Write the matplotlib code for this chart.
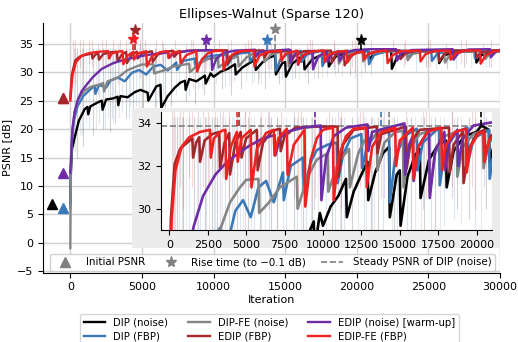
import matplotlib
matplotlib.use('Agg')
import matplotlib.pyplot as plt
from matplotlib.patches import Rectangle
from matplotlib.lines import Line2D

# ---- curves (iteration, PSNR in dB) ----
dip_noise_it = [0, 40, 120, 300, 600, 1000, 1200, 1250, 1400, 2000, 2200, 2250, 2500, 3000, 3300, 3350, 3500, 4000, 4500,
                4900, 5400, 5450, 6000, 6300, 6350, 6800, 7300, 7700, 8000, 8050, 8300, 8800, 9400, 9450, 9800, 10000,
                10500, 11000, 11500, 11550, 12000, 12500, 12900, 12950, 13400, 13900, 14300, 14350, 14800, 15000, 15050,
                15500, 16000, 16300, 16350, 16900, 17500, 18000, 18050, 18500, 19200, 20000, 20300, 20800, 20850, 21200,
                22000, 22400, 22450, 22800, 23600, 25700, 25750, 26100, 27000, 28300, 28350, 28700, 29500, 30000]
dip_noise_psnr = [7.0, 12.5, 16.5, 18.5, 21.5, 23.5, 23.9, 22.6, 24.0, 24.8, 25.0, 23.4, 25.2, 25.4, 25.7, 24.2, 25.8, 25.6, 26.5,
                  26.9, 26.4, 25.0, 27.5, 27.8, 23.7, 25.8, 27.3, 28.2, 28.5, 26.9, 28.8, 28.4, 29.4, 28.0, 29.8, 29.2,
                  30.1, 30.6, 31.4, 29.6, 30.8, 31.6, 32.2, 30.4, 31.7, 32.6, 32.9, 29.6, 31.6, 31.8, 29.2,
                  31.5, 32.5, 32.8, 30.5, 32.3, 33.0, 33.2, 31.0, 32.7, 33.4, 33.6, 33.9, 33.7, 32.2, 33.2,
                  33.6, 33.7, 30.6, 32.6, 33.6, 33.7, 31.6, 33.0, 33.6, 33.7, 31.7, 33.0, 33.6, 33.7]

dip_fbp_it = [0, 40, 120, 250, 500, 900, 1400, 1700, 1750, 2000, 2500, 2800, 3300, 3800, 4300, 4800, 5300, 5800, 6300, 6800,
              7400, 7450, 7900, 8700, 8750, 9200, 9600, 10300, 10900, 10950, 11300, 11800, 12500, 12550, 12900, 13700,
              14300, 14350, 14700, 15300, 16100, 16150, 16500, 17550, 17600, 17950, 18700, 19400, 19450, 19800, 20800,
              20850, 21200, 22000, 23500, 23550, 23900, 25200, 25250, 25600, 26500, 28200, 28250, 28600, 29500, 30000]
dip_fbp_psnr = [6.1, 13.0, 18.5, 21.5, 24.0, 25.8, 27.0, 27.6, 26.2, 27.8, 27.3, 28.5, 29.1, 28.4, 29.9, 30.4, 29.6, 31.0, 31.3,
                30.3, 31.7, 30.4, 32.0, 32.4, 30.8, 32.2, 32.75, 33.0, 33.1, 31.2, 32.5, 33.3, 33.5, 31.9, 33.0, 33.7,
                33.8, 30.3, 32.4, 33.4, 33.75, 31.8, 33.1, 33.8, 31.1, 32.8, 33.6, 33.8, 32.2, 33.3, 33.7,
                31.4, 33.0, 33.7, 33.8, 32.5, 33.4, 33.8, 32.0, 33.2, 33.8, 33.85, 32.4, 33.4, 33.8, 33.8]

dipfe_noise_it = [0, 20, 60, 150, 300, 600, 1000, 1500, 2000, 2300, 2350, 2600, 3300, 3950, 4600, 5000, 5800, 5850, 6500,
                  7200, 8300, 8350, 9000, 9600, 10300, 10350, 11000, 11700, 11750, 12300, 12700, 13500, 13550, 14000,
                  14700, 15200, 15250, 15600, 16300, 16900, 16950, 17300, 17900, 18700, 18750, 19100, 19800, 20400, 20450,
                  20800, 21600, 23500, 23550, 23900, 24700, 26100, 26150, 26500, 27300, 28900, 28950, 29300, 30000]
dipfe_noise_psnr = [-0.9, 8.0, 15.0, 20.0, 23.0, 25.5, 26.8, 27.5, 27.8, 28.1, 26.6, 28.4, 29.0, 30.3, 31.0, 31.35, 31.4, 29.8,
                    30.3, 31.0, 31.5, 30.0, 31.5, 32.3, 32.6, 30.8, 32.2, 32.8, 31.0, 32.6, 33.2, 33.45, 31.8, 33.1,
                    33.6, 33.65, 31.0, 32.8, 33.5, 33.65, 30.8, 32.6, 33.4, 33.6, 31.5, 32.9, 33.5, 33.65, 31.9,
                    33.1, 33.6, 33.7, 32.1, 33.2, 33.65, 33.7, 31.7, 33.0, 33.6, 33.7, 32.3, 33.3, 33.7]

edip_fbp_it = [0, 100, 350, 700, 1000, 1500, 1550, 1750, 1950, 2000, 2300, 2800, 3250, 3300, 3600, 3900, 3950, 4300, 4650,
               4700, 5000, 5700, 5750, 6100, 6700, 7200, 7250, 7500, 8200, 9600, 10950, 11000, 11300, 12000, 13500, 13550,
               13800, 15400, 15450, 15700, 16300, 18200, 18250, 18500, 19100, 19150, 19500, 20000, 20500, 20550, 20900,
               21600, 23000, 23050, 23400, 24200, 25700, 25750, 26100, 26800, 28300, 28350, 28700, 29500, 30000]
edip_fbp_psnr = [25.5, 29.5, 32.1, 32.8, 33.0, 33.3, 32.4, 33.1, 33.35, 32.2, 33.2, 33.5, 33.6, 31.9, 33.1, 33.55, 31.6, 33.1, 33.6,
                 32.4, 33.3, 33.7, 31.8, 33.1, 33.65, 33.75, 32.7, 33.4, 33.8, 33.85, 33.85, 31.5, 33.0, 33.7, 33.85, 32.6,
                 33.5, 33.85, 31.9, 33.1, 33.7, 33.8, 31.7, 33.0, 33.6, 31.2, 32.8, 33.5, 33.7, 32.5, 33.4,
                 33.75, 33.85, 32.3, 33.3, 33.8, 33.85, 31.9, 33.2, 33.8, 33.85, 32.6, 33.5, 33.85, 33.85]

edip_noise_it = [0, 60, 150, 300, 500, 800, 1200, 1600, 2200, 3000, 3700, 4400, 5200, 6100, 6850, 6900, 7200, 7600, 8700,
                 9850, 9900, 10200, 10700, 11500, 12900, 12950, 13200, 15300, 15350, 15600, 15850, 15900, 16200, 16900,
                 16950, 17300, 17900, 17950, 18200, 18750, 18800, 19100, 19800, 21000, 22750, 22800, 23100, 23800, 26700,
                 26750, 27100, 27800, 29300, 29350, 29700, 30000]
edip_noise_psnr = [12.3, 15.5, 20.0, 23.0, 25.0, 26.7, 28.0, 29.2, 30.6, 31.6, 32.15, 32.55, 32.95, 33.3, 33.45, 32.5, 33.3, 33.6, 33.8,
                   33.9, 30.4, 32.4, 33.4, 33.8, 33.95, 32.7, 33.6, 34.0, 31.6, 33.0, 33.4, 31.3, 32.9, 33.7,
                   30.5, 32.7, 33.6, 31.8, 33.1, 33.7, 32.0, 33.3, 33.9, 34.05, 34.05, 32.0, 33.3, 33.9, 34.05,
                   32.2, 33.4, 34.0, 34.05, 32.6, 33.6, 33.95]

edipfe_fbp_it = [0, 150, 400, 800, 1300, 2000, 2650, 2700, 2900, 3400, 3650, 3700, 4000, 4400, 4450, 4700, 5300, 5350, 5700,
                 6300, 6800, 6850, 7100, 7650, 7700, 8100, 8800, 8850, 9200, 9600, 10000, 10650, 10700, 11000, 11500,
                 12000, 12800, 12850, 13200, 13800, 14700, 14750, 15000, 15850, 15900, 16200, 16800, 17700, 17750, 18000,
                 18600, 19300, 19350, 19600, 20100, 20450, 20500, 20800, 21500, 22100, 22150, 22500, 23100, 24400, 24450,
                 24800, 25500, 26500, 26550, 26900, 27600, 28600, 28650, 29000, 29600, 30000]
edipfe_fbp_psnr = [25.0, 29.5, 31.8, 32.9, 33.35, 33.6, 33.7, 32.4, 33.3, 33.65, 33.7, 31.4, 32.9, 33.6, 32.2, 33.3, 33.7, 31.0, 32.8,
                   33.55, 33.7, 32.5, 33.3, 33.75, 31.6, 33.0, 33.7, 30.1, 32.3, 33.3, 33.7, 33.8, 30.4, 32.4, 33.4,
                   33.75, 33.8, 31.0, 32.9, 33.6, 33.8, 32.0, 33.2, 33.8, 31.4, 32.9, 33.6, 33.8, 31.8, 33.0,
                   33.6, 33.75, 31.7, 32.9, 33.5, 33.6, 32.2, 33.2, 33.7, 33.8, 31.6, 33.0, 33.7, 33.8, 31.9,
                   33.2, 33.75, 33.8, 32.2, 33.3, 33.8, 33.85, 31.5, 33.0, 33.7, 33.8]

# faint raw spikes (iteration, lowest PSNR)
dip_noise_spk_it = [500, 900, 1600, 2300, 2800, 3100, 3900, 4400, 5100, 5900, 6600, 7000, 8100, 8700, 9300, 10600, 11200,
                    11900, 13100, 13600, 14600, 15700, 16600, 17300, 18700, 19500, 20600, 22400, 24800, 26300, 27500, 29200]
dip_noise_spk_lo = [15, 17, 19, 20, 19.5, 21, 22, 21, 22, 23, 22.5, 24, 25, 24.5, 26, 27, 26, 27, 28, 27, 28, 29, 28, 29,
                    30, 29.5, 30, 30.5, 31, 30.5, 31, 31]
dip_fbp_spk_it = [350, 800, 1300, 2000, 2400, 2900, 3600, 4100, 4600, 5500, 6000, 6500, 7600, 8300, 8900, 10200, 10800,
                  11400, 12700, 13200, 13900, 14800, 15500, 17000, 17900, 18500, 19900, 21000, 21800, 24100, 26900, 29000]
dip_fbp_spk_lo = [16, 19, 20, 21, 20, 22, 23, 22, 24, 25, 24, 26, 27, 26, 27, 28, 27.5, 28.5, 28, 29, 29, 28.8, 28.8, 29,
                  29.2, 29.5, 29, 29.5, 30, 30, 30.5, 31]
dipfe_spk_it = [250, 650, 1100, 1800, 2600, 3000, 3400, 4200, 4800, 5300, 6200, 7000, 7400, 8600, 9200, 9700, 11100, 12300,
                12800, 13300, 14500, 16000, 16400, 17600, 19000, 20300, 22700, 25500, 28000]
dipfe_spk_lo = [17, 19, 21, 20, 22, 21, 22, 24, 23.5, 25, 25, 25.5, 26, 27, 27, 28, 27.5, 28.5, 28.5, 28, 29, 28.6, 29, 29,
                29.3, 29, 30, 30.5, 31]
edip_fbp_spk_it = [200, 700, 1300, 2500, 3500, 5200, 6400, 8600, 10400, 12600, 14300, 16900, 19700, 22500, 25000, 27600]
edip_fbp_spk_lo = [29, 31, 31.5, 31, 31.5, 31, 31, 31.5, 31, 31.5, 31, 31.5, 31, 31.5, 31.5, 31.5]
edip_noise_spk_it = [1900, 3300, 4900, 6500, 8100, 9400, 11000, 12200, 14000, 16500, 18400, 20500, 23300, 26200, 28800]
edip_noise_spk_lo = [26, 28, 29, 30, 30.5, 30, 30.5, 31, 30.5, 30, 30.5, 31, 31, 31.5, 31.5]
edipfe_spk_it = [300, 900, 1500, 2200, 3000, 3900, 4900, 6000, 7300, 8400, 9500, 11200, 12400, 13800, 15400, 16700, 18400,
                 19900, 21000, 23400, 25100, 27300, 29400]
edipfe_spk_lo = [28, 30, 31, 31, 31.5, 30.5, 31, 31, 31, 30, 30.5, 30, 31, 30.5, 31, 30.5, 31, 30, 31, 31.5, 31, 31.5, 31]

labels = ['DIP (noise)', 'DIP (FBP)', 'DIP-FE (noise)', 'EDIP (FBP)', 'EDIP (noise) [warm-up]', 'EDIP-FE (FBP)']
colors = ['#000000', '#3a78b8', '#858585', '#a3282c', '#6e2da6', '#ef2222']
curves_it = [dip_noise_it, dip_fbp_it, dipfe_noise_it, edip_fbp_it, edip_noise_it, edipfe_fbp_it]
curves_psnr = [dip_noise_psnr, dip_fbp_psnr, dipfe_noise_psnr, edip_fbp_psnr, edip_noise_psnr, edipfe_fbp_psnr]
spikes_it = [dip_noise_spk_it, dip_fbp_spk_it, dipfe_spk_it, edip_fbp_spk_it, edip_noise_spk_it, edipfe_spk_it]
spikes_lo = [dip_noise_spk_lo, dip_fbp_spk_lo, dipfe_spk_lo, edip_fbp_spk_lo, edip_noise_spk_lo, edipfe_spk_lo]
spikes_hi = [34.3, 34.3, 34.3, 35.6, 35.0, 35.8]

# initial psnr triangles (None = hidden)
init_x = [-1250, -500, None, -500, -500, -500]
init_psnr = [6.9, 6.1, None, 25.5, 12.3, 25.5]
# rise time stars
rise_it = [20300, 13750, 14300, 4550, 9500, 4400]
rise_star_y = [35.7, 35.75, 37.55, 37.45, 35.7, 35.8]
steady_psnr = 33.9

plt.rcParams['font.size'] = 8
fig = plt.figure(figsize=(5.18, 3.42), dpi=100)
ax = fig.add_axes([0.0836, 0.2032, 0.8817, 0.7287])

for i in range(6):
    ax.vlines(spikes_it[i], spikes_lo[i], spikes_hi[i], color=colors[i], alpha=0.18, lw=0.8, zorder=1)
for i in range(6):
    ax.plot(curves_it[i], curves_psnr[i], color=colors[i], lw=1.7, zorder=2 + i, label=labels[i])
for i in [2, 5, 0, 1, 4, 3]:
    if init_x[i] is not None:
        ax.plot(init_x[i], init_psnr[i], marker='^', ms=7, color=colors[i], ls='none', zorder=10)
for i in range(6):
    ax.vlines(rise_it[i], steady_psnr, rise_star_y[i], color=colors[i], ls='--', lw=1.2, zorder=9)
    ax.plot(rise_it[i], rise_star_y[i], marker='*', ms=8, color=colors[i], ls='none', zorder=10)

ax.set_xlim(-1885, 30000)
ax.set_ylim(-5.2, 38.6)
ax.set_xticks([0, 5000, 10000, 15000, 20000, 25000, 30000])
ax.set_yticks([-5, 0, 5, 10, 15, 20, 25, 30, 35])
ax.grid(True, color='#d0d0d0', lw=1)
ax.set_axisbelow(True)
for s in ['top', 'right']:
    ax.spines[s].set_visible(False)
ax.set_xlabel('Iteration', labelpad=2)
ax.set_ylabel('PSNR [dB]', labelpad=4)
ax.set_title('Ellipses-Walnut (Sparse 120)', fontsize=9.3, pad=4)

# inner legend
h_in = [Line2D([], [], marker='^', color='gray', ls='none', ms=7),
        Line2D([], [], marker='*', color='gray', ls='none', ms=8),
        Line2D([], [], color='gray', ls='--', lw=1.2)]
ax.legend(h_in, ['Initial PSNR', 'Rise time (to \u22120.1 dB)', 'Steady PSNR of DIP (noise)'], ncol=3,
          loc='lower left', bbox_to_anchor=(0.015, 0.006, 0.974, 0.07), mode='expand', borderaxespad=0,
          fontsize=7.4, handlelength=2.2, handletextpad=0.9, borderpad=0.35, framealpha=0.9)

# inset
fig.patches.append(Rectangle((0.2542, 0.2749), 0.7111, 0.4093, transform=fig.transFigure,
                             facecolor='#ececec', edgecolor='none', zorder=2))
axi = fig.add_axes([0.3102, 0.3275, 0.6390, 0.3459], zorder=3)
for i in range(6):
    axi.vlines(spikes_it[i], spikes_lo[i], spikes_hi[i], color=colors[i], alpha=0.18, lw=0.8, zorder=1)
axi.axhline(steady_psnr, color='gray', ls='--', lw=1.2, zorder=1.5)
for i in range(6):
    axi.plot(curves_it[i], curves_psnr[i], color=colors[i], lw=1.9, zorder=2 + i)
    axi.vlines(rise_it[i], steady_psnr, 36, color=colors[i], ls='--', lw=1.2, zorder=9)
axi.set_xlim(-560, 20980)
axi.set_ylim(29.0, 34.55)
axi.set_xticks(range(0, 20001, 2500))
axi.set_yticks([30, 32, 34])
for s in ['top', 'right']:
    axi.spines[s].set_visible(False)

fig.legend(loc='upper center', bbox_to_anchor=(0.52, 0.098), ncol=3, fontsize=7.3, handlelength=2.1,
           handletextpad=0.8, columnspacing=2.0, borderpad=0.4, labelspacing=0.35)

fig.savefig('out.png', dpi=100)
